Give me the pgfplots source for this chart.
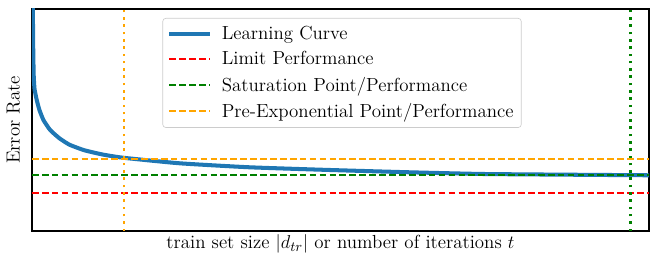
\documentclass[border=0pt]{standalone}
\usepackage{pgfplots}
\pgfplotsset{compat=1.18}
\definecolor{mplblue}{RGB}{31,119,180}
\definecolor{mplgreen}{RGB}{0,128,0}
\definecolor{mplorange}{RGB}{255,165,0}
\definecolor{mplred}{RGB}{255,0,0}
\definecolor{legframe}{RGB}{204,204,204}
\begin{document}
\begin{tikzpicture}[font=\fontsize{12.2}{14}\selectfont]
\begin{axis}[
  name=ax,
  scale only axis,
  width=398.1pt, height=143.2pt,
  xmin=0, xmax=617, ymin=0, ymax=222,
  xtick=\empty, ytick=\empty,
  axis line style={line width=0.8pt},
  xlabel={train set size $|d_{tr}|$ or number of iterations $t$},
  ylabel={Error Rate},
  xlabel style={at={(axis description cs:0.5,0)}, anchor=base, yshift=-11.6pt},
  ylabel style={at={([xshift=-4.2pt]axis description cs:0,0.5)}, anchor=south},
  legend style={at={(axis description cs:0.2115,0.9595)}, anchor=north west,
    draw=legframe, rounded corners=2pt, fill=white,
    inner xsep=3pt, inner ysep=3.2pt, row sep=2.2pt,
    nodes={inner sep=2pt}},
  legend cell align=left,
  legend image code/.code={\draw[#1] (0pt,0.3pt) -- (26pt,0.3pt); \path (30.5pt,0pt);},
]
\addplot[color=mplblue, line width=2.6pt, smooth, tension=0.3] coordinates {
(0.9,232) (1.1,200) (1.4,175) (1.8,155) (2.6,142) (4.8,131) (7.5,121) (11.5,111)
(18.2,101) (27.5,92.7) (37.5,86.3) (52.2,80.8) (70,76.6) (90.8,73.3) (147.5,67.7) (217.5,63.7)
(297.5,61) (377.5,58.7) (450.5,57) (534.5,56.3) (617.5,55.7)};
\addlegendentry{Learning Curve}
\addplot[color=mplred, line width=1.15pt, dash pattern=on 4.3pt off 2.1pt] coordinates {(0,38.2) (617,38.2)};
\addlegendentry{Limit Performance}
\addplot[color=mplgreen, line width=1.15pt, dash pattern=on 4.3pt off 2.1pt] coordinates {(0,56) (617,56)};
\addlegendentry{Saturation Point/Performance}
\addplot[color=mplorange, line width=1.15pt, dash pattern=on 4.3pt off 2.1pt] coordinates {(0,72) (617,72)};
\addlegendentry{Pre-Exponential Point/Performance}
\addplot[color=mplorange, line width=1.6pt, dash pattern=on 1.6pt off 3.1pt, forget plot] coordinates {(91.8,0) (91.8,222)};
\addplot[color=mplgreen, line width=1.6pt, dash pattern=on 1.6pt off 3.1pt, forget plot] coordinates {(598.5,0) (598.5,222)};
\end{axis}
\pgfresetboundingbox
\path ([xshift=-20.6pt,yshift=-16.8pt]ax.south west) rectangle ([xshift=0.6pt,yshift=5.8pt]ax.north east);
\end{tikzpicture}
\end{document}
